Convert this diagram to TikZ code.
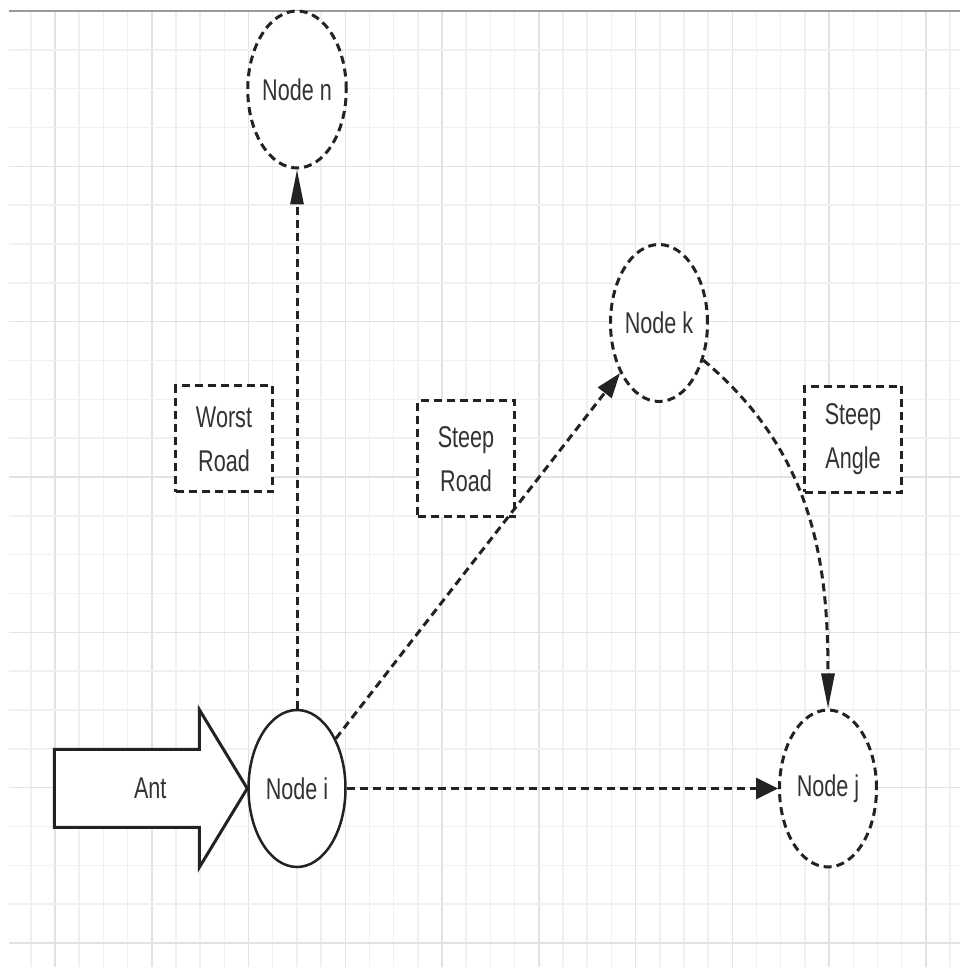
\documentclass[tikz,border=0pt]{standalone}
\usepackage{fontspec}
\setmainfont{Liberation Sans}[FakeStretch=0.72]
\usetikzlibrary{arrows.meta,shapes.geometric}

\definecolor{inkline}{HTML}{222222}
\definecolor{inktext}{HTML}{333333}
\definecolor{gridminor}{HTML}{F0F0F0}
\definecolor{gridmajor}{HTML}{E2E2E2}
\definecolor{gridtop}{HTML}{9A9A9A}

\newcommand\diagfont{\fontsize{30}{44}\selectfont}

\tikzset{
    town/.style={ellipse, draw=inkline, fill=white, line width=2.5pt,
        minimum width=97pt, minimum height=157pt, inner sep=0pt,
        text=inktext, font=\diagfont},
    faint town/.style={town, line width=3pt, dash pattern=on 8pt off 5pt},
    note/.style={rectangle, draw=inkline, fill=white, line width=3pt,
        dash pattern=on 8pt off 5pt, minimum width=97pt, minimum height=106pt,
        align=center, text=inktext, font=\diagfont},
    road/.style={draw=inkline, line width=3pt, dash pattern=on 8pt off 5pt},
    tip up/.style={-{Triangle[length=35pt,width=13pt]}},
    tip side/.style={-{Triangle[length=22pt,width=21pt]}},
    tip slant/.style={-{Triangle[length=25pt,width=17pt]}},
}

\begin{document}
\begin{tikzpicture}[x=1pt, y=1pt]
    \useasboundingbox (0,0) rectangle (960,967);

    % squared paper
    \foreach \m in {-1,...,37}
        \draw[gridminor, line width=1.5pt] ({55+24.19*\m},0) -- ({55+24.19*\m},956);
    \foreach \m in {0,4,...,36}
        \draw[gridmajor, line width=1.5pt] ({55+24.19*\m},0) -- ({55+24.19*\m},956);
    \foreach \k in {1,...,24}
        \draw[gridminor, line width=1.5pt] (9,{956-38.83*\k}) -- (960,{956-38.83*\k});
    \foreach \k in {4,8,...,24}
        \draw[gridmajor, line width=1.5pt] (9,{956-38.83*\k}) -- (960,{956-38.83*\k});
    \draw[gridtop, line width=2pt] (9,956) -- (960,956);

    % nodes
    \node[faint town] (n) at (297,877.5) {Node n};
    \node[town] (i) at (297,178.5) {Node i};
    \node[faint town] (k) at (659,644) {Node k};
    \node[faint town] (j) at (828,178.5) {Node j};

    \node[note] (worst) at (224,528) {Worst\\Road};
    \node[note, minimum height=116pt] (steeproad) at (466,508) {Steep\\Road};
    \node[note] (steepangle) at (853,527.5) {Steep\\Angle};

    % the ant coming in
    \draw[draw=inkline, fill=white, line width=3pt]
        (i.west) -- ++(-48,79) -- ++(0,-40) -- ++(-145,0) -- ++(0,-78)
        -- ++(145,0) -- ++(0,-40) -- cycle;
    \node[text=inktext, font=\diagfont] (ant) at ([xshift=-97pt]i.west) {Ant};

    % roads
    \draw[road, tip up] (i) -- (n);
    \draw[road, tip slant] (i) -- (k);
    \draw[road, tip side, line width=3.5pt] (i) -- (j);
    \draw[road, tip up] (k) to[out=-40, in=90] (j);
\end{tikzpicture}
\end{document}
